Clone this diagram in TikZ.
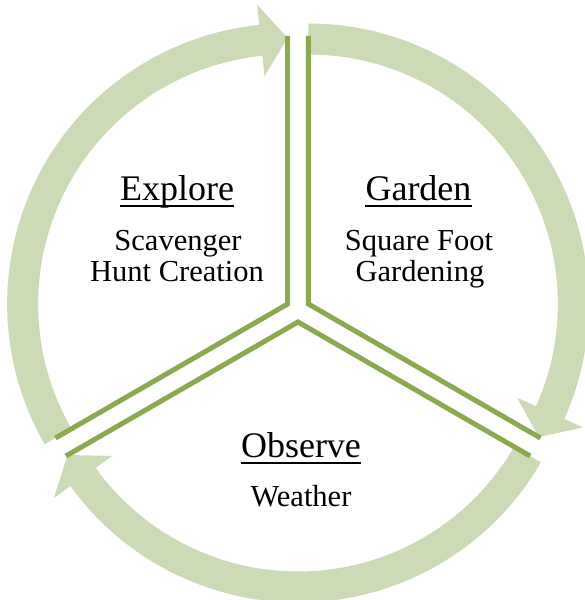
\documentclass[tikz,border=0pt]{standalone}
\usepackage{fontspec}
\setmainfont{Liberation Serif}
\usetikzlibrary{calc}
\definecolor{bandgreen}{HTML}{CCDAB5}
\definecolor{edgegreen}{HTML}{8BA94F}
\newcommand\cyclearrow[3]{% apex, start angle, end angle (clockwise travel)
  \pgfmathsetmacro\arrbase{#3+5.8}
  \begin{scope}[shift={(#1)}]
    \fill[bandfill] (#2:280.5pt) arc[start angle=#2, end angle=\arrbase, radius=280.5pt]
      -- (\arrbase:301pt) -- (#3:266pt) -- (\arrbase:229pt) -- (\arrbase:249.5pt)
      arc[start angle=\arrbase, end angle=#2, radius=249.5pt] -- cycle;
  \end{scope}
}
\begin{document}
\begin{tikzpicture}[x=1pt,y=1pt,
  bandfill/.style={fill=bandgreen, draw=none},
  edgeline/.style={draw=edgegreen, line width=5pt, line join=miter},
  head/.style={font=\fontsize{36}{40}\selectfont, inner sep=0pt, anchor=base},
  body/.style={font=\fontsize{30.5}{34}\selectfont, inner sep=0pt, anchor=base},
  uline/.style={draw=black, line width=1.6pt}]
\useasboundingbox (-298,-290) rectangle (287,310);

% sector apexes
\coordinate (pE) at (-10.39,6);
\coordinate (pG) at (10.39,6);
\coordinate (pO) at (0,-12);

% arc arrows
\cyclearrow{pE}{210}{90}
\cyclearrow{pG}{90}{-30}
\cyclearrow{pO}{-30}{-150}

% sector edge ends
\coordinate (eE1) at ($(pE)+(90:268pt)$);
\coordinate (eE2) at ($(pE)+(210:268pt)$);
\coordinate (eG1) at ($(pG)+(90:268pt)$);
\coordinate (eG2) at ($(pG)+(-30:268pt)$);
\coordinate (eO1) at ($(pO)+(-30:268pt)$);
\coordinate (eO2) at ($(pO)+(210:268pt)$);

\draw[edgeline] (eE1) -- (pE) -- (eE2);
\draw[edgeline] (eG1) -- (pG) -- (eG2);
\draw[edgeline] (eO1) -- (pO) -- (eO2);

% texts
\node[head] (hE) at (-121,110) {Explore};
\draw[uline] ([yshift=-6pt]hE.base west) -- ([yshift=-6pt]hE.base east);
\node[body] (bE1) at (-120,60) {Scavenger};
\node[body] (bE2) at (-121,29) {Hunt Creation};

\node[head] (hG) at (120.5,110) {Garden};
\draw[uline] ([yshift=-6pt]hG.base west) -- ([yshift=-6pt]hG.base east);
\node[body] (bG1) at (121,60) {Square Foot};
\node[body] (bG2) at (122,29) {Gardening};

\node[head] (hO) at (3,-147) {Observe};
\draw[uline] ([yshift=-6pt]hO.base west) -- ([yshift=-6pt]hO.base east);
\node[body] (bO1) at (3,-196) {Weather};
\end{tikzpicture}
\end{document}
